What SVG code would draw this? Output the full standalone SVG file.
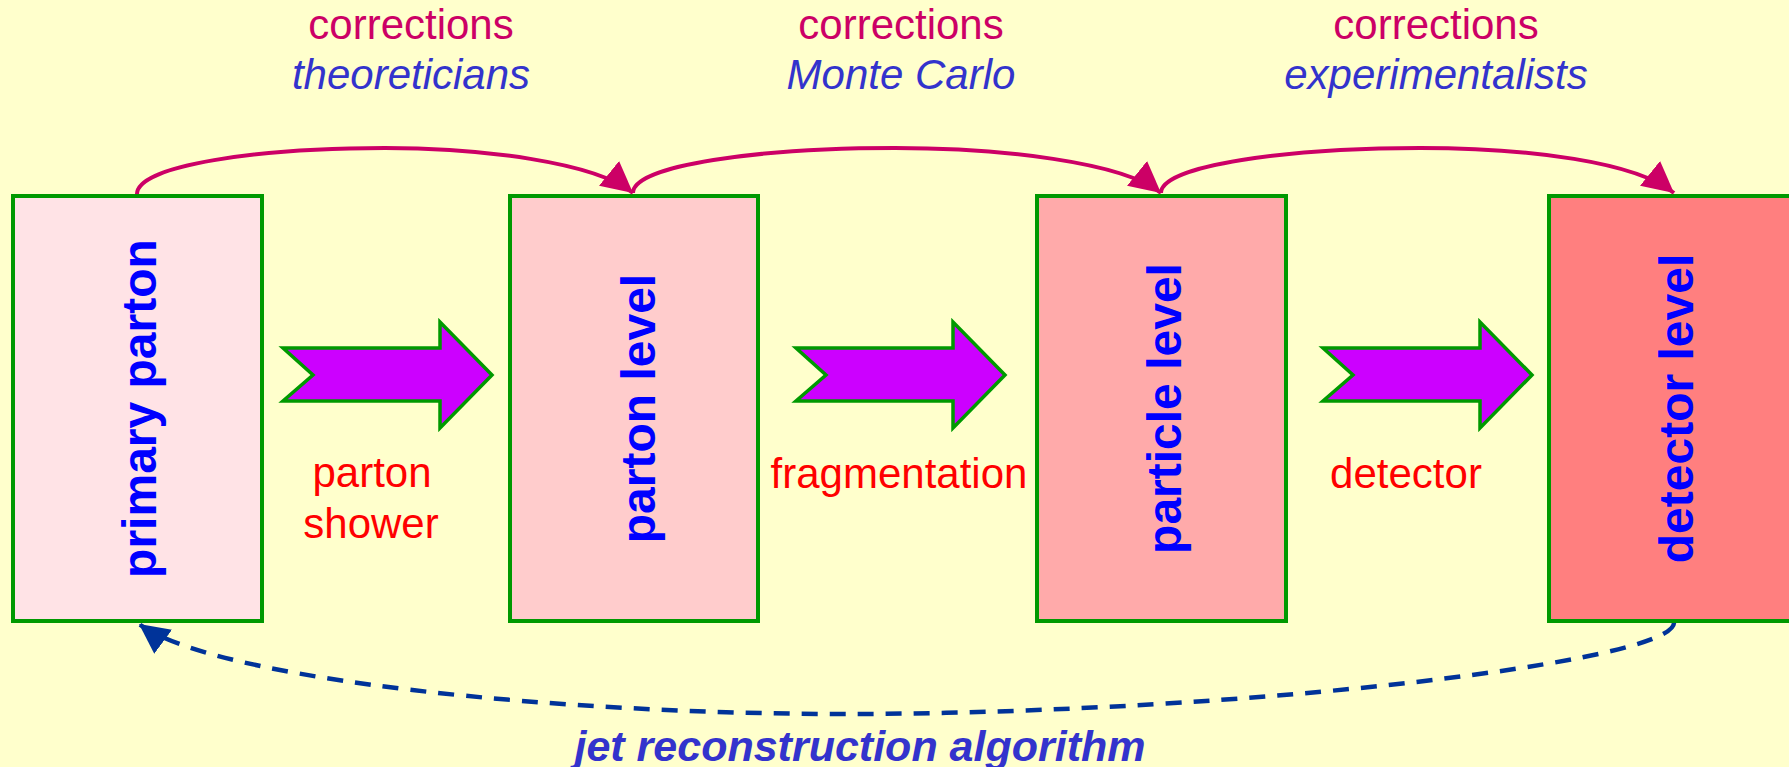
<svg xmlns="http://www.w3.org/2000/svg" width="1789" height="767" viewBox="0 0 1789 767">
  <style>
    .box { stroke: #009900; stroke-width: 4; }
    .lvl { font-family: "Liberation Sans", Arial, sans-serif; font-size: 48px; font-weight: bold; fill: #0000FF; text-anchor: middle; }
    .corr { font-family: "Liberation Sans", Arial, sans-serif; font-size: 42px; fill: #CC0066; text-anchor: middle; }
    .who { font-family: "Liberation Sans", Arial, sans-serif; font-size: 42px; font-style: italic; fill: #3333CC; text-anchor: middle; }
    .step { font-family: "Liberation Sans", Arial, sans-serif; font-size: 42px; fill: #FF0000; text-anchor: middle; }
    .jet { font-family: "Liberation Sans", Arial, sans-serif; font-size: 43px; font-weight: bold; font-style: italic; fill: #3333CC; text-anchor: middle; }
    .block { fill: #CC00FF; stroke: #009900; stroke-width: 3.5; stroke-linejoin: miter; }
    .corrArc { fill: none; stroke: #CC0066; stroke-width: 4; }
    .recoArc { fill: none; stroke: #003399; stroke-width: 4.5; stroke-dasharray: 16 12; }
  </style>
  <defs>
    <marker id="headCorr" markerUnits="userSpaceOnUse" viewBox="0 0 31 32" markerWidth="31" markerHeight="32" refX="31" refY="16" orient="auto">
      <path d="M0,0 L31,16 L0,32 Z" fill="#CC0066"/>
    </marker>
    <marker id="headReco" markerUnits="userSpaceOnUse" viewBox="0 0 30 30" markerWidth="30" markerHeight="30" refX="30" refY="15" orient="auto">
      <path d="M0,0 L30,15 L0,30 Z" fill="#003399"/>
    </marker>
    <polygon id="blockArrow" class="block" points="283,348 440,348 440,322 492,375 440,428 440,401 283,401 313,375"/>
  </defs>

  <rect width="1789" height="767" fill="#FFFFCC"/>

  <!-- header labels -->
  <text class="corr" x="411" y="39">corrections</text>
  <text class="who" x="411" y="89">theoreticians</text>
  <text class="corr" x="901" y="39">corrections</text>
  <text class="who" x="901" y="89">Monte Carlo</text>
  <text class="corr" x="1436" y="39">corrections</text>
  <text class="who" x="1436" y="89">experimentalists</text>

  <!-- level boxes -->
  <g id="primary-parton">
    <rect class="box" x="13" y="196" width="249" height="425" fill="#FFE3E6"/>
    <text class="lvl" transform="translate(156,408.5) rotate(-90)">primary parton</text>
  </g>
  <g id="parton-level">
    <rect class="box" x="510" y="196" width="248" height="425" fill="#FFCCCC"/>
    <text class="lvl" transform="translate(655,408.5) rotate(-90)">parton level</text>
  </g>
  <g id="particle-level">
    <rect class="box" x="1037" y="196" width="249" height="425" fill="#FFAAAA"/>
    <text class="lvl" transform="translate(1181,408.5) rotate(-90)">particle level</text>
  </g>
  <g id="detector-level">
    <rect class="box" x="1549" y="196" width="249" height="425" fill="#FF7F7F"/>
    <text class="lvl" transform="translate(1693,408.5) rotate(-90)">detector level</text>
  </g>

  <!-- process steps -->
  <g id="step-shower">
    <use href="#blockArrow"/>
    <text class="step" x="372" y="487">parton</text>
    <text class="step" x="371" y="538">shower</text>
  </g>
  <g id="step-fragmentation">
    <use href="#blockArrow" transform="translate(513,0)"/>
    <text class="step" x="899" y="488">fragmentation</text>
  </g>
  <g id="step-detector">
    <use href="#blockArrow" transform="translate(1040,0)"/>
    <text class="step" x="1406" y="488">detector</text>
  </g>

  <!-- connectors -->
  <g id="connectors">
    <path class="corrArc" marker-end="url(#headCorr)" d="M137,194 C137,165 260,148 385,148 C480,148 595,162 633,193"/>
    <path class="corrArc" marker-end="url(#headCorr)" d="M633,193 C633,165 760,148 895,148 C1000,148 1123,162 1161,193"/>
    <path class="corrArc" marker-end="url(#headCorr)" d="M1161,193 C1161,165 1290,148 1420,148 C1530,148 1636,162 1674,193"/>
    <path class="recoArc" marker-end="url(#headReco)" d="M1674,623 C1672,662 1250,712 860,714 C560,715 215,680 139,624"/>
  </g>

  <text class="jet" x="860" y="761">jet reconstruction algorithm</text>
</svg>
